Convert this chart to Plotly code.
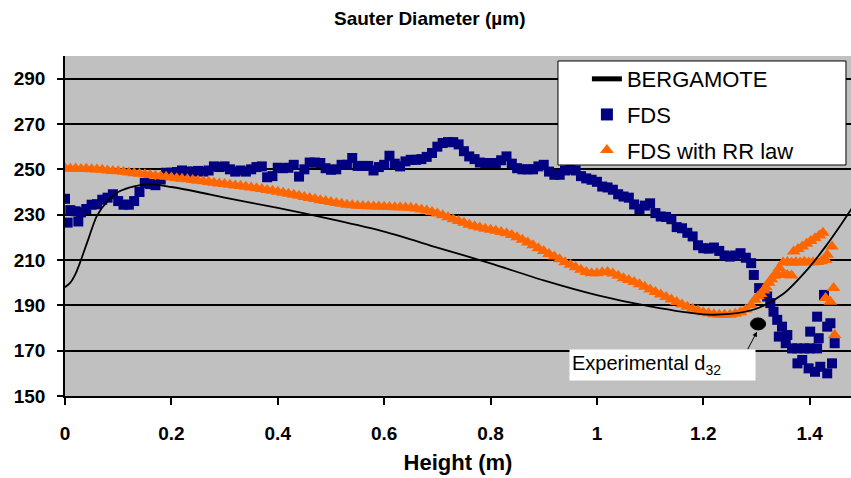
import plotly.graph_objects as go

# ---------------- data ----------------
berg_x = [0, 0.01, 0.02, 0.03, 0.045, 0.06, 0.08, 0.1, 0.13, 0.16, 0.2, 0.25, 0.3, 0.4, 0.5, 0.6,
          0.7, 0.8, 0.9, 1.0, 1.1, 1.2, 1.25, 1.3, 1.35, 1.4, 1.43, 1.46, 1.48]
berg_y = [198, 200, 204, 210, 220, 229.5, 236, 240, 242.5, 243.5, 242.2, 240, 237.5, 233, 228, 222.5,
          215.5, 208.5, 201, 194.5, 189.5, 186, 186.2, 188.5, 195, 207, 216, 226, 233]

fds_x = [0.00, 0.005, 0.01, 0.02, 0.025, 0.03, 0.04, 0.05, 0.06, 0.07, 0.08, 0.09, 0.10, 0.11, 0.12,
         0.13, 0.14, 0.15, 0.16, 0.17, 0.18, 0.19, 0.20, 0.21, 0.22, 0.23, 0.24, 0.25, 0.26, 0.27,
         0.28, 0.29, 0.30, 0.31, 0.32, 0.33, 0.34, 0.35, 0.36, 0.37, 0.38, 0.39, 0.40, 0.41, 0.42,
         0.43, 0.44, 0.45, 0.46, 0.47, 0.48, 0.49, 0.50, 0.51, 0.52, 0.53, 0.54, 0.55, 0.56, 0.57,
         0.58, 0.59, 0.60, 0.61, 0.62, 0.63, 0.64, 0.65, 0.66, 0.67, 0.68, 0.69, 0.70, 0.71, 0.72,
         0.73, 0.74, 0.75, 0.76, 0.77, 0.78, 0.79, 0.80, 0.81, 0.82, 0.83, 0.84, 0.85, 0.86, 0.87,
         0.88, 0.89, 0.90, 0.91, 0.92, 0.93, 0.94, 0.95, 0.96, 0.97, 0.98, 0.99, 1.00, 1.01, 1.02,
         1.03, 1.04, 1.05, 1.06, 1.07, 1.08, 1.09, 1.10, 1.11, 1.12, 1.13, 1.14, 1.15, 1.16, 1.17,
         1.18, 1.19, 1.20, 1.21, 1.22, 1.23, 1.24, 1.25, 1.26, 1.27, 1.28, 1.29, 1.295, 1.305, 1.313,
         1.32, 1.326, 1.332, 1.339, 1.348, 1.342, 1.358, 1.355, 1.367, 1.377, 1.39, 1.40, 1.414, 1.377,
         1.386, 1.398, 1.41, 1.42, 1.433, 1.442, 1.401, 1.414, 1.417, 1.433, 1.439, 1.427, 1.447]
fds_y = [237, 226.5, 232, 231.5, 227, 231, 232.5, 234.4, 234.6, 236.6, 237.5, 239, 236, 234.4, 234.4,
         236, 240, 244, 243.5, 243, 245.5, 248.5, 248.5, 248.8, 249.5, 249, 249, 249.3, 249, 249.5,
         251.3, 251, 251.3, 250, 249, 249.5, 249, 250, 251, 251.3, 246.5, 247, 250.7, 250.5, 250.7,
         252, 246.8, 250, 253, 253, 252.8, 250.5, 249.8, 250, 252, 252, 255, 251.5, 251.5, 251.5,
         249.5, 251, 252, 256, 252.5, 251.3, 253.5, 254.2, 254.2, 254.5, 255.5, 257.2, 260, 261.6, 262,
         262, 261, 258, 255.7, 254.5, 253, 252.8, 252.8, 252.8, 254, 255.7, 252.5, 250.5, 250, 250,
         250, 251.3, 252, 249, 247.6, 247.6, 249.5, 250, 249.5, 247, 246, 245.4, 244.5, 242.4, 242,
         241, 239, 238, 237.5, 234.5, 232.5, 234, 235, 230.7, 229.2, 229, 228, 224.5, 224, 222,
         220.4, 216.5, 215.2, 215, 215.5, 214, 212, 211.5, 212, 213, 211, 208.6, 203.4, 197.6, 196,
         193.9, 191, 187.2, 183.6, 180.6, 176.2, 176.9, 173.3, 171, 171, 171, 171, 171, 164.4,
         165.9, 162.2, 160.7, 162.9, 160, 164.4, 178.4, 185, 175.5, 180.6, 182.1, 194.6, 173.3]

rr_x = [0.00, 0.01, 0.02, 0.03, 0.04, 0.05, 0.06, 0.07, 0.08, 0.09, 0.10, 0.11, 0.12, 0.13, 0.14,
        0.15, 0.16, 0.17, 0.18, 0.19, 0.20, 0.21, 0.22, 0.23, 0.24, 0.25, 0.26, 0.27, 0.28, 0.29,
        0.30, 0.31, 0.32, 0.33, 0.34, 0.35, 0.36, 0.37, 0.38, 0.39, 0.40, 0.41, 0.42, 0.43, 0.44,
        0.45, 0.46, 0.47, 0.48, 0.49, 0.50, 0.51, 0.52, 0.53, 0.54, 0.55, 0.56, 0.57, 0.58, 0.59,
        0.60, 0.61, 0.62, 0.63, 0.64, 0.65, 0.66, 0.67, 0.68, 0.69, 0.70, 0.71, 0.72, 0.73, 0.74,
        0.75, 0.76, 0.77, 0.78, 0.79, 0.80, 0.81, 0.82, 0.83, 0.84, 0.85, 0.86, 0.87, 0.88, 0.89,
        0.90, 0.91, 0.92, 0.93, 0.94, 0.95, 0.96, 0.97, 0.98, 0.99, 1.00, 1.01, 1.02, 1.03, 1.04,
        1.05, 1.06, 1.07, 1.08, 1.09, 1.10, 1.11, 1.12, 1.13, 1.14, 1.15, 1.16, 1.17, 1.18, 1.19,
        1.20, 1.21, 1.22, 1.23, 1.24, 1.25, 1.26, 1.27, 1.28, 1.29,
        1.297, 1.303, 1.308, 1.313, 1.318, 1.323, 1.328, 1.333, 1.338, 1.343, 1.35, 1.358, 1.366,
        1.35, 1.358, 1.366, 1.374, 1.382, 1.39, 1.398, 1.406, 1.414, 1.422, 1.43,
        1.37, 1.378, 1.386, 1.394, 1.402, 1.41, 1.418, 1.425, 1.442, 1.433, 1.445, 1.43, 1.439, 1.447]
rr_y = [250.5, 250.3, 250.4, 250.2, 250.3, 250.0, 249.9, 249.8, 249.5, 249.3, 249.1, 248.9, 248.6,
        248.3, 248.1, 247.8, 247.5, 247.2, 246.9, 246.7, 246.4, 246.1, 245.8, 245.6, 245.3, 245.0,
        244.7, 244.4, 244.1, 243.8, 243.5, 243.2, 242.9, 242.6, 242.3, 242.0, 241.6, 241.3, 240.9,
        240.5, 240.1, 239.7, 239.2, 238.8, 238.3, 237.8, 237.3, 236.9, 236.4, 236.0, 235.6, 235.2,
        234.8, 234.4, 234.1, 233.9, 233.8, 233.7, 233.6, 233.6, 233.5, 233.4, 233.3, 233.3, 233.2,
        233.0, 232.7, 232.3, 231.8, 231.2, 230.5, 229.7, 228.9, 228.0, 227.2, 226.4, 225.5, 224.9,
        224.3, 223.8, 223.3, 222.9, 222.4, 221.8, 221.0, 220.0, 218.9, 217.7, 216.5, 215.2, 214.0,
        212.7, 211.5, 210.3, 209.0, 207.9, 206.8, 205.7, 204.7, 204.1, 204.2, 204.6, 204.7, 204.0,
        203.0, 202.0, 201.2, 200.3, 199.3, 198.2, 197.0, 195.9, 194.8, 193.7, 192.6, 191.5, 190.4,
        189.4, 188.5, 187.7, 187.0, 186.5, 186.1, 185.9, 185.8, 185.9, 186.3, 187.0, 188.2, 190.0,
        192.5, 194.0, 195.0, 196.5, 198.0, 200.0, 201.5, 203.0, 204.3, 206.5, 203.4, 203.4, 203.2,
        208.9, 209.1, 208.8, 209.0, 208.9, 209.2, 208.9, 209.0, 209.1, 209.4, 210.0,
        213.7, 214.8, 216.0, 217.2, 218.4, 219.6, 220.8, 222.0, 216.0, 212.3, 197.6, 193.2, 191.6, 176.9]

exp_x = [1.303]
exp_y = [181.8]

y_ticks = [150, 170, 190, 210, 230, 250, 270, 290]
x_ticks = [0, 0.2, 0.4, 0.6, 0.8, 1.0, 1.2, 1.4]
x_labels = ["0", "0.2", "0.4", "0.6", "0.8", "1", "1.2", "1.4"]

FONT = "Arial, 'Liberation Sans', sans-serif"

fig = go.Figure()
fig.add_trace(go.Scatter(x=fds_x, y=fds_y, mode="markers", name="FDS",
                         marker=dict(symbol="square", size=10, color="#000080", line=dict(width=0)),
                         legendgroup="b", legendrank=2))
fig.add_trace(go.Scatter(x=rr_x, y=rr_y, mode="markers", name="FDS with RR law",
                         marker=dict(symbol="triangle-up", size=12, color="#ff6600", line=dict(width=0)),
                         legendgroup="c", legendrank=3))
fig.add_trace(go.Scatter(x=berg_x, y=berg_y, mode="lines", name="BERGAMOTE",
                         line=dict(color="black", width=1.8, shape="spline", smoothing=0.8),
                         legendgroup="a", legendrank=1))

# experimental point (ellipse) from data
ex, ey = exp_x[0], exp_y[0]
fig.add_shape(type="circle", xref="x", yref="y", x0=ex - 0.0142, x1=ex + 0.0142,
              y0=ey - 2.65, y1=ey + 2.65, fillcolor="black", line=dict(color="black", width=1),
              layer="above")

# legend box
fig.add_shape(type="rect", xref="paper", yref="paper", x0=0.6272, x1=0.9936, y0=0.6794, y1=0.9853,
              fillcolor="white", line=dict(color="black", width=1), layer="above")

# annotation
fig.add_annotation(x=1.1233, y=163.7, text="Experimental d<sub>32</sub>", showarrow=False,
                   bgcolor="white", width=181, height=26, borderpad=2, align="left",
                   font=dict(family=FONT, size=20, color="black"))
fig.add_annotation(x=1.301, y=178.4, ax=-10, ay=19, text="", showarrow=True,
                   arrowhead=2, arrowsize=1, arrowwidth=1, arrowcolor="black")

fig.update_layout(
    width=851, height=478,
    margin=dict(l=65, r=0, t=56, b=82),
    paper_bgcolor="white", plot_bgcolor="#c0c0c0",
    title=dict(text="Sauter Diameter (µm)", x=0.505, xref="container", y=1 - 18 / 478,
               yref="container", yanchor="middle", xanchor="center",
               font=dict(family=FONT, size=19, color="black", weight="bold")),
    showlegend=True,
    legend=dict(x=0.664, y=0.994, xanchor="left", yanchor="top", bgcolor="rgba(0,0,0,0)",
                borderwidth=0, font=dict(family=FONT, size=22, color="black"),
                tracegroupgap=4, traceorder="grouped", itemsizing="constant"),
    xaxis=dict(range=[0, 1.4777], tickvals=x_ticks, ticktext=x_labels, showgrid=False,
               zeroline=False, showline=True, linecolor="black", linewidth=1.5,
               ticks="outside", ticklen=7, tickcolor="black", tickwidth=1.5,
               ticklabelstandoff=12,
               tickfont=dict(family=FONT, size=19, color="black", weight="bold"),
               title=dict(text="Height (m)", standoff=12,
                          font=dict(family=FONT, size=22, color="black", weight="bold"))),
    yaxis=dict(range=[150, 300], tickvals=y_ticks, showgrid=True, gridcolor="black", gridwidth=1.5,
               zeroline=False, showline=True, linecolor="black", linewidth=1.5,
               ticks="outside", ticklen=6, tickcolor="black", tickwidth=1.5,
               ticklabelstandoff=8,
               tickfont=dict(family=FONT, size=19, color="black", weight="bold")),
)

fig.write_html("out.html")
